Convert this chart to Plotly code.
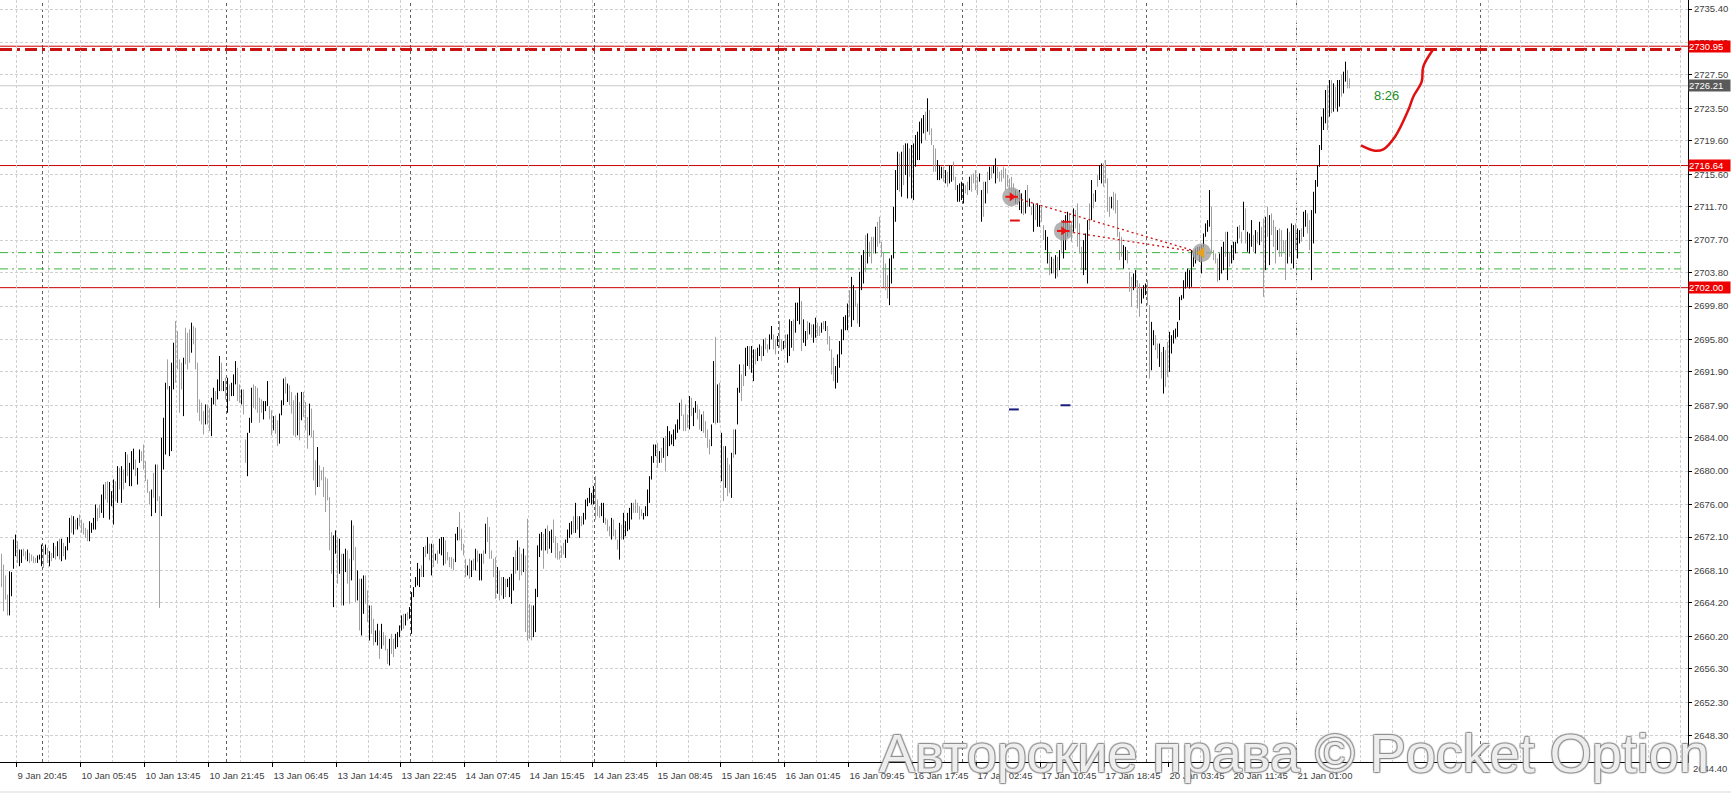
import plotly.graph_objects as go

# ---------------- data (XAUUSD M15) ----------------
bar_high = [
2670.1,2668.8,2667.5,2665.2,2668.0, 2667.9,2671.8,2672.4,2671.6,2670.6,
2670.6,2670.7,2670.4,2670.6,2670.2, 2670.0,2669.8,2669.6,2669.9,2670.0,
2671.2,2671.0,2671.2,2670.8,2670.4, 2670.2,2671.4,2671.0,2671.6,2671.9,
2671.9,2671.4,2671.0,2672.1,2674.4, 2674.7,2674.6,2674.2,2674.4,2674.8,
2674.2,2673.8,2673.2,2673.0,2674.0, 2673.8,2674.4,2676.0,2675.6,2676.0,
2677.2,2678.4,2678.7,2678.8,2678.7, 2677.6,2679.0,2678.8,2680.6,2680.4,
2680.6,2680.2,2682.3,2682.0,2681.0, 2682.4,2682.7,2681.4,2680.4,2682.6,
2682.4,2683.2,2681.2,2679.0,2677.6, 2677.8,2679.8,2680.8,2680.8,2677.0,
2684.0,2686.4,2690.6,2693.4,2690.2, 2693.0,2695.4,2698.0,2696.8,2693.4,
2693.0,2693.6,2697.2,2696.6,2697.0, 2697.8,2697.4,2697.2,2693.0,2688.6,
2688.2,2687.2,2688.0,2688.0,2687.6, 2688.8,2690.0,2689.6,2691.0,2693.8,
2693.0,2690.8,2691.2,2691.2,2690.4, 2690.6,2691.6,2693.2,2692.4,2690.4,
2689.8,2689.8,2683.8,2684.6,2686.4, 2690.0,2690.4,2690.2,2690.0,2688.8,
2688.6,2688.4,2688.4,2690.8,2687.8, 2687.3,2686.6,2686.7,2686.1,2686.9,
2688.5,2691.1,2691.3,2690.5,2690.3, 2689.5,2688.5,2689.1,2689.4,2688.3,
2689.5,2689.5,2688.3,2686.5,2688.1, 2687.5,2684.9,2681.3,2682.9,2680.7,
2680.1,2680.5,2679.3,2679.1,2676.9, 2672.7,2672.3,2672.9,2672.1,2671.9,
2670.1,2670.1,2670.7,2670.5,2669.5, 2674.1,2673.5,2670.9,2668.1,2667.1,
2667.1,2667.5,2667.5,2665.7,2663.9, 2663.9,2662.3,2660.9,2661.7,2660.9,
2661.7,2660.7,2660.3,2658.7,2659.9, 2660.5,2659.9,2660.5,2660.7,2661.5,
2662.7,2662.9,2662.9,2663.1,2663.7, 2665.5,2666.1,2667.3,2669.0,2668.3,
2668.7,2670.9,2671.1,2672.1,2671.3, 2671.3,2671.3,2670.1,2670.5,2671.9,
2672.1,2672.1,2671.7,2670.3,2669.7, 2669.7,2669.5,2672.5,2673.3,2675.1,
2673.1,2671.3,2669.5,2668.7,2669.5, 2669.3,2669.5,2670.7,2670.5,2670.1,
2670.1,2670.5,2673.7,2674.5,2673.3, 2670.5,2669.5,2669.7,2668.5,2668.1,
2667.3,2667.3,2667.1,2667.1,2667.3, 2667.7,2669.7,2670.5,2671.7,2670.9,
2670.1,2670.7,2669.9,2674.3,2664.1, 2663.9,2663.9,2665.9,2671.1,2672.5,
2672.7,2672.5,2673.1,2673.5,2672.8, 2673.0,2674.2,2672.2,2671.4,2670.4,
2671.0,2671.4,2671.8,2673.0,2673.8, 2674.0,2674.6,2676.2,2674.6,2674.6,
2674.6,2675.0,2676.6,2676.8,2678.0, 2677.4,2678.2,2679.4,2676.6,2675.8,
2676.2,2676.2,2674.4,2674.2,2673.4, 2674.4,2674.2,2673.0,2671.8,2673.8,
2673.6,2675.0,2674.0,2675.0,2675.6, 2676.2,2676.2,2676.6,2676.2,2675.8,
2675.4,2675.0,2675.8,2677.8,2679.4, 2681.8,2683.2,2683.2,2683.4,2682.4,
2682.8,2684.0,2684.2,2685.4,2684.8, 2684.4,2685.0,2685.6,2686.2,2688.2,
2688.6,2686.8,2688.0,2686.8,2689.0, 2688.8,2687.6,2688.4,2688.0,2687.4,
2686.8,2687.2,2686.0,2685.0,2683.8, 2685.6,2693.2,2696.1,2690.4,2690.6,
2684.6,2683.0,2683.0,2681.6,2680.8, 2682.2,2685.0,2685.0,2690.0,2692.8,
2691.6,2692.8,2694.8,2695.0,2695.0, 2695.0,2694.6,2694.6,2694.8,2695.2,
2695.0,2695.8,2696.0,2695.2,2696.4, 2697.4,2696.4,2695.8,2696.2,2698.0,
2695.8,2695.6,2696.4,2696.4,2698.2, 2698.0,2698.2,2700.2,2700.2,2702.0,
2700.4,2698.2,2696.8,2698.0,2697.8, 2697.6,2697.6,2698.4,2697.8,2697.4,
2697.8,2698.0,2698.0,2697.4,2696.2, 2694.6,2693.6,2692.6,2694.0,2695.6,
2697.0,2698.5,2698.7,2700.1,2701.7, 2703.3,2702.3,2701.7,2700.1,2703.9,
2705.9,2706.5,2708.3,2708.5,2707.5, 2708.1,2708.1,2709.3,2709.9,2710.5,
2707.5,2706.3,2704.9,2703.5,2705.5, 2705.9,2711.7,2716.1,2718.3,2718.1,
2718.3,2719.1,2719.3,2719.3,2718.7, 2719.1,2719.3,2720.3,2720.7,2721.9,
2722.3,2722.7,2723.1,2724.7,2723.3, 2721.1,2719.1,2718.7,2717.3,2716.7,
2716.5,2716.5,2716.1,2715.9,2716.7, 2716.7,2717.1,2715.3,2714.3,2714.5,
2714.7,2714.5,2714.3,2714.7,2715.3, 2715.5,2715.7,2716.1,2715.3,2715.7,
2713.7,2714.7,2714.7,2715.9,2716.5, 2716.5,2716.7,2717.5,2716.5,2715.9,
2716.1,2716.5,2716.3,2715.5,2715.1, 2715.3,2714.5,2713.7,2713.5,2713.7,
2713.3,2712.3,2713.7,2714.3,2712.7, 2711.7,2712.1,2711.9,2712.1,2711.9,
2711.7,2709.5,2708.9,2708.1,2706.1, 2705.7,2705.5,2705.9,2705.7,2706.5,
2710.1,2710.1,2710.7,2711.1,2710.9, 2709.9,2711.5,2711.3,2712.1,2709.7,
2706.9,2707.7,2708.5,2710.1,2712.1, 2714.9,2713.3,2713.7,2715.5,2716.7,
2716.9,2716.9,2717.3,2715.1,2712.9, 2712.9,2713.5,2713.3,2712.5,2708.7,
2708.1,2707.1,2706.9,2706.5,2703.9, 2703.3,2703.7,2704.1,2702.9,2702.5,
2701.9,2702.3,2702.5,2702.9,2699.9, 2697.9,2696.9,2696.3,2695.3,2695.3,
2694.3,2694.9,2694.5,2695.5,2696.7, 2696.3,2696.9,2697.1,2697.9,2700.9,
2701.1,2702.9,2703.9,2704.3,2704.1, 2706.5,2706.1,2706.7,2706.9,2706.9,
2707.1,2708.5,2709.7,2710.1,2713.7, 2711.7,2706.5,2706.1,2705.5,2706.1,
2706.9,2707.5,2708.7,2708.7,2706.3, 2707.1,2707.5,2707.5,2709.3,2709.5,
2708.7,2712.3,2711.5,2708.7,2708.5, 2710.1,2708.3,2708.9,2708.7,2709.9,
2709.3,2710.3,2710.5,2711.7,2710.7, 2710.9,2710.1,2709.3,2708.9,2709.1,
2708.9,2707.7,2707.7,2709.1,2708.7, 2709.7,2709.5,2709.7,2709.1,2708.9,
2709.1,2711.1,2711.3,2710.9,2710.1, 2711.3,2713.5,2714.9,2716.7,2719.1,
2722.5,2723.5,2725.7,2726.3,2726.9, 2726.9,2726.5,2726.1,2726.9,2726.9,
2727.5,2727.9,2729.1,2728.1,2727.1,
]

bar_low = [
2666.1,2663.2,2664.6,2662.7,2662.7, 2665.0,2668.3,2669.8,2669.0,2668.6,
2669.0,2669.8,2669.4,2669.2,2669.0, 2669.2,2669.0,2669.0,2669.0,2669.4,
2668.6,2668.4,2670.0,2669.0,2668.6, 2669.2,2669.6,2669.4,2669.8,2669.4,
2669.2,2669.8,2669.4,2670.5,2671.4, 2672.6,2672.4,2673.0,2673.0,2673.4,
2672.6,2672.4,2672.0,2671.6,2671.6, 2672.6,2673.0,2673.0,2674.0,2674.4,
2675.0,2674.4,2676.6,2676.2,2674.2, 2675.8,2673.6,2676.4,2676.2,2677.8,
2676.2,2677.8,2678.6,2679.4,2678.2, 2678.2,2680.2,2679.4,2678.4,2681.0,
2681.2,2680.2,2678.8,2677.4,2676.0, 2674.6,2676.8,2675.0,2676.4,2663.6,
2674.6,2680.2,2682.0,2689.8,2681.8, 2682.4,2689.8,2690.6,2692.2,2687.0,
2689.8,2686.6,2692.8,2692.2,2693.0, 2694.2,2695.2,2692.2,2687.0,2686.0,
2685.6,2684.4,2685.6,2685.6,2684.8, 2684.2,2688.0,2687.8,2688.6,2689.6,
2689.6,2689.6,2688.6,2687.0,2688.4, 2689.0,2689.0,2690.4,2688.4,2688.2,
2688.0,2686.8,2681.0,2679.4,2684.6, 2685.8,2687.6,2687.4,2687.0,2685.8,
2687.0,2686.2,2687.2,2687.8,2686.2, 2684.3,2684.9,2684.5,2683.0,2683.3,
2686.7,2687.9,2689.3,2688.3,2687.9, 2686.9,2684.3,2684.1,2684.3,2683.7,
2686.1,2686.5,2684.9,2682.7,2684.3, 2684.1,2678.9,2677.1,2678.1,2678.1,
2678.9,2676.9,2675.1,2676.5,2670.5, 2667.7,2663.7,2670.1,2666.5,2667.7,
2663.9,2663.9,2667.9,2666.5,2664.1, 2666.9,2669.3,2664.3,2664.5,2660.9,
2660.3,2662.9,2664.1,2661.9,2659.7, 2660.5,2659.1,2659.5,2659.1,2657.5,
2658.7,2659.1,2658.5,2656.9,2656.7, 2658.1,2657.7,2658.7,2658.9,2660.1,
2660.9,2661.1,2661.5,2662.1,2662.3, 2660.5,2664.9,2666.1,2666.3,2666.1,
2667.3,2667.3,2669.7,2670.1,2669.3, 2667.5,2668.5,2669.3,2668.9,2670.1,
2669.9,2668.7,2668.9,2669.3,2668.5, 2668.3,2668.1,2669.1,2671.7,2671.7,
2670.5,2669.9,2667.3,2667.5,2667.1, 2667.3,2668.1,2668.1,2669.1,2666.9,
2666.9,2668.9,2670.1,2671.5,2669.5, 2669.5,2667.3,2664.7,2665.3,2664.5,
2665.1,2664.7,2664.9,2666.1,2664.9, 2664.1,2665.7,2667.7,2668.1,2666.9,
2667.5,2667.9,2660.7,2659.7,2659.9, 2659.7,2660.1,2660.7,2664.9,2669.7,
2670.5,2668.3,2670.5,2670.1,2670.7, 2670.2,2671.4,2669.6,2669.4,2669.4,
2669.6,2670.0,2669.6,2671.4,2672.0, 2672.4,2672.6,2672.6,2673.0,2672.0,
2673.4,2673.6,2674.2,2675.8,2676.2, 2676.0,2676.0,2674.2,2674.6,2674.4,
2674.6,2673.8,2673.6,2672.8,2672.2, 2671.8,2672.2,2671.8,2670.6,2669.4,
2671.8,2671.8,2672.2,2672.8,2673.0, 2674.2,2675.0,2675.0,2675.0,2674.2,
2674.6,2674.2,2674.6,2674.6,2676.2, 2679.0,2681.0,2681.8,2680.4,2681.0,
2681.0,2681.6,2680.0,2681.8,2683.0, 2683.2,2683.0,2683.8,2684.6,2685.0,
2686.6,2684.8,2684.8,2685.2,2685.0, 2686.6,2685.4,2687.0,2686.2,2685.0,
2684.8,2684.6,2684.0,2682.8,2682.0, 2683.0,2685.8,2685.6,2685.8,2685.8,
2678.8,2676.4,2678.0,2677.0,2677.4, 2676.8,2681.6,2682.0,2685.6,2689.4,
2688.4,2690.2,2691.4,2692.6,2692.2, 2691.8,2690.8,2692.8,2693.2,2693.8,
2693.2,2693.8,2694.6,2694.2,2694.6, 2695.8,2694.6,2694.0,2695.0,2694.8,
2694.4,2694.6,2694.8,2693.0,2693.8, 2694.8,2694.4,2696.6,2698.0,2697.6,
2694.4,2695.4,2695.0,2695.8,2696.4, 2696.0,2695.4,2696.0,2696.2,2696.2,
2696.6,2697.0,2696.8,2695.2,2694.4, 2691.6,2690.8,2689.9,2690.6,2692.4,
2694.0,2695.7,2696.9,2696.9,2698.5, 2697.3,2698.1,2699.7,2697.7,2697.3,
2701.7,2702.5,2703.9,2704.9,2705.7, 2704.9,2706.1,2706.1,2706.9,2707.3,
2705.7,2702.1,2701.7,2700.7,2699.9, 2702.5,2705.5,2709.9,2713.7,2713.5,
2712.9,2714.3,2715.5,2712.7,2715.3, 2712.7,2712.5,2716.5,2717.3,2717.3,
2719.3,2720.5,2719.7,2720.7,2720.3, 2719.1,2715.9,2715.9,2714.9,2714.9,
2715.1,2714.7,2714.5,2714.1,2714.5, 2714.7,2714.9,2713.7,2712.3,2712.3,
2712.5,2712.1,2713.3,2713.1,2713.7, 2713.5,2714.5,2713.7,2713.1,2714.7,
2709.9,2710.5,2712.1,2713.3,2714.9, 2715.1,2715.7,2714.5,2715.1,2714.7,
2714.7,2715.1,2713.7,2714.1,2713.7, 2712.9,2712.5,2712.1,2711.9,2711.3,
2710.9,2710.7,2710.9,2711.7,2711.7, 2710.7,2708.7,2710.1,2709.3,2709.3,
2709.9,2707.7,2706.5,2704.9,2703.5, 2703.7,2703.7,2703.1,2703.3,2704.1,
2706.1,2705.5,2706.5,2708.1,2708.9, 2707.5,2708.7,2709.1,2706.9,2706.1,
2704.1,2703.5,2704.1,2702.5,2708.9, 2710.1,2711.5,2712.3,2714.1,2714.9,
2714.5,2714.1,2714.5,2711.1,2710.5, 2711.5,2711.3,2710.9,2708.1,2705.3,
2705.7,2704.3,2705.3,2704.9,2701.5, 2699.7,2701.7,2702.1,2699.5,2698.5,
2700.1,2700.7,2701.1,2699.9,2691.1, 2692.1,2695.1,2694.5,2693.5,2692.5,
2691.1,2689.3,2690.1,2691.3,2691.9, 2694.1,2695.3,2695.9,2696.1,2698.1,
2700.5,2700.7,2701.9,2702.1,2701.9, 2702.1,2704.5,2704.9,2705.9,2705.1,
2703.7,2706.1,2708.1,2708.7,2709.3, 2706.1,2705.3,2704.9,2702.7,2702.9,
2703.7,2704.1,2705.7,2702.9,2704.5, 2704.9,2705.3,2706.1,2707.3,2707.9,
2707.3,2708.9,2707.3,2706.3,2706.1, 2706.9,2706.3,2706.1,2707.3,2707.1,
2707.5,2700.9,2704.1,2708.1,2704.7, 2708.3,2706.9,2704.9,2706.5,2705.7,
2705.7,2706.3,2702.9,2704.9,2705.7, 2704.9,2704.3,2706.5,2705.5,2707.3,
2707.5,2708.1,2709.3,2708.5,2706.5, 2702.9,2707.3,2710.9,2714.1,2716.5,
2718.5,2720.9,2721.7,2720.9,2722.5, 2722.9,2723.1,2723.5,2723.1,2723.7,
2724.9,2725.3,2726.7,2725.9,2725.9,
]

# 1 = bullish bar (black), 0 = bearish bar (grey)
bar_up = [
0,0,0,0,1, 1,1,1,0,1, 1,0,0,1,0, 0,0,0,1,1, 1,0,1,0,1, 0,1,0,1,0,
1,0,1,1,1, 0,1,0,1,0, 0,0,0,0,1, 1,1,1,0,0, 1,1,0,0,1, 1,1,0,1,0,
1,0,1,0,1, 1,1,0,1,1, 0,0,0,0,0, 1,0,1,0,0, 1,1,1,0,1, 1,1,0,0,0,
0,1,0,0,0, 1,0,0,0,0, 0,0,1,0,0, 1,1,0,1,1, 0,1,0,1,0, 1,1,1,0,0,
1,0,0,1,1, 1,0,0,0,0, 0,1,1,1,0, 0,1,0,0,1, 1,1,0,1,0, 0,0,0,1,0,
1,0,0,0,1, 0,0,0,1,0, 0,0,0,0,0, 0,1,1,0,1, 0,1,1,0,0, 1,0,0,1,0,
1,1,0,0,1, 0,0,1,1,0, 1,0,0,0,1, 0,0,1,1,1, 1,0,1,0,1, 1,1,1,1,1,
0,1,0,1,0, 1,0,1,0,1, 1,1,0,0,0, 0,0,1,1,0, 0,0,0,1,0, 1,0,1,0,1,
1,0,1,0,0, 0,0,0,1,0, 0,1,0,1,1, 1,1,0,1,0, 0,1,0,0,0, 0,1,1,1,1,
1,0,1,0,1, 1,0,0,0,0, 0,0,1,1,1, 1,0,1,0,1, 0,1,1,1,1, 1,1,0,0,0,
1,1,0,0,0, 1,0,0,0,1, 0,1,1,1,1, 1,0,0,0,0, 0,1,1,1,1, 1,1,1,0,1,
0,1,0,1,1, 1,1,1,1,1, 0,0,0,0,1, 0,1,1,0,0, 1,0,0,0,0, 1,1,0,1,0,
1,0,1,0,0, 1,0,1,1,1, 0,0,1,1,0, 1,1,0,1,1, 0,1,0,0,1, 1,0,0,1,0,
0,1,0,1,1, 1,0,1,1,1, 0,1,1,0,1, 0,1,1,0,0, 1,0,1,0,0, 0,0,1,1,1,
1,1,1,1,0, 1,1,0,0,1, 1,1,0,1,0, 0,0,1,0,0, 0,0,0,0,1, 1,1,1,1,0,
1,0,1,1,0, 1,1,1,1,1, 1,1,0,1,0, 0,0,0,1,1, 1,0,1,0,1, 1,0,0,1,1,
1,1,0,0,1, 0,0,0,0,1, 1,0,1,0,1, 0,1,1,0,0, 0,0,0,0,0, 0,0,1,0,1,
1,0,1,0,1, 0,1,0,1,1, 0,0,1,1,0, 1,0,1,0,1, 0,1,1,1,0, 0,1,0,0,0,
0,1,1,1,0, 1,0,1,0,1, 1,0,0,0,0, 1,0,0,0,0, 0,1,1,0,0, 0,1,1,0,0,
1,1,1,0,0, 1,1,0,0,1, 0,1,0,0,1, 1,1,1,1,1, 1,1,1,1,1, 1,1,1,1,1,
1,1,1,1,1, 0,0,0,0,1, 1,1,0,1,0, 1,1,1,1,0, 0,1,0,1,1, 1,0,1,0,1,
0,0,1,0,1, 0,0,0,1,0, 0,0,0,1,0, 1,1,0,1,1, 0,1,1,0,0, 1,1,1,1,1,
1,1,1,0,1, 0,1,0,1,1, 0,1,1,0,0,
]

x_labels = ["9 Jan 20:45", "10 Jan 05:45", "10 Jan 13:45", "10 Jan 21:45",
            "13 Jan 06:45", "13 Jan 14:45", "13 Jan 22:45", "14 Jan 07:45",
            "14 Jan 15:45", "14 Jan 23:45", "15 Jan 08:45", "15 Jan 16:45",
            "16 Jan 01:45", "16 Jan 09:45", "16 Jan 17:45", "17 Jan 02:45",
            "17 Jan 10:45", "17 Jan 18:45", "20 Jan 03:45", "20 Jan 11:45",
            "21 Jan 01:00"]
y_labels = ["2735.40", "2731.40", "2727.50", "2723.50", "2719.60", "2715.60",
            "2711.70", "2707.70", "2703.80", "2699.80", "2695.80", "2691.90",
            "2687.90", "2684.00", "2680.00", "2676.00", "2672.10", "2668.10",
            "2664.20", "2660.20", "2656.30", "2652.30", "2648.30"]
y_label_bottom = "2644.40"

# horizontal levels
level_resist = 2730.95
level_resist_dashdot = 2730.55
level_bid = 2726.21
level_mid = 2716.64
level_support = 2702.00
level_green = [2706.2, 2704.25]

# day separators (bar index)
day_separators = [20.5, 112.5, 204.5, 296.5, 388.5, 480.5, 572.5, 647.5, 739.5]

# trade markers: (bar index, price)
entry_x = [505.1, 530.9]
entry_y = [2712.9, 2708.8]
exit_x = [600.1]
exit_y = [2706.2]
dotted_end_x = 595.9
dotted_end_y = [2706.45, 2706.35]
red_dash_x = [506.7, 532.5]
red_dash_y = [2710.05, 2709.9]
blue_dash_x = [506.2, 532.0]
blue_dash_y = [2687.4, 2687.9]

# hand-drawn forecast curve
curve_x = [679.75, 686.75, 690.9, 696.75, 703.4, 705.9, 710.1, 710.9, 715.9]
curve_y = [2719.07, 2718.42, 2718.59, 2720.10, 2723.30, 2724.90, 2726.70, 2728.50, 2730.58]
timer_text = "8:26"
timer_x, timer_y = 692.25, 2725.0

watermark = "Авторские права © Pocket Option"

# ---------------- figure ----------------
FONT = "Liberation Sans, Arial, sans-serif"
W, H = 1731, 793
ML, MR, MT, MB = 0, 43, 0, 31
PLOT_H = H - MT - MB

fig = go.Figure()

def segments(flag):
    xs, ys = [], []
    for i, (h, l, u) in enumerate(zip(bar_high, bar_low, bar_up)):
        if u == flag:
            xs += [i, i, None]
            ys += [l, h, None]
    return xs, ys

shapes = []
for xs in day_separators:
    shapes.append(dict(type="line", xref="x", yref="paper", x0=xs, x1=xs, y0=0, y1=1,
                       line=dict(color="#606060", width=1, dash="3px,3px"), layer="below"))
shapes.append(dict(type="line", xref="paper", yref="y", x0=0, x1=1, y0=level_bid, y1=level_bid,
                   line=dict(color="#c8c8c8", width=1), layer="below"))
for g in level_green:
    shapes.append(dict(type="line", xref="paper", yref="y", x0=0, x1=0.996, y0=g, y1=g,
                       line=dict(color="#3cb43c", width=1, dash="8px,4px,2px,4px"), layer="below"))
for lv in (level_resist, level_mid, level_support):
    shapes.append(dict(type="line", xref="paper", yref="y", x0=0, x1=1, y0=lv, y1=lv,
                       line=dict(color="#cc0000", width=1), layer="below"))
shapes.append(dict(type="line", xref="paper", yref="y", x0=0, x1=0.996,
                   y0=level_resist_dashdot, y1=level_resist_dashdot,
                   line=dict(color="#cc1111", width=3, dash="12px,5px,3px,5px"), layer="below"))
shapes.append(dict(type="rect", xref="paper", yref="paper", x0=-0.01, x1=1.03,
                   y0=-(MB - 2) / PLOT_H, y1=-(MB + 2) / PLOT_H,
                   fillcolor="#ececec", line=dict(width=0), layer="below"))

dx, dy = segments(0)
fig.add_trace(go.Scatter(x=dx, y=dy, mode="lines", line=dict(color="#a0a0a0", width=1),
                         hoverinfo="skip", showlegend=False))
ux, uy = segments(1)
fig.add_trace(go.Scatter(x=ux, y=uy, mode="lines", line=dict(color="#000000", width=1),
                         hoverinfo="skip", showlegend=False))

for ex, ey, ty in zip(entry_x, entry_y, dotted_end_y):
    fig.add_trace(go.Scatter(x=[ex, dotted_end_x], y=[ey, ty], mode="lines",
                             line=dict(color="#cc1111", width=1.3, dash="2px,3px"),
                             hoverinfo="skip", showlegend=False))
fig.add_trace(go.Scatter(x=entry_x + exit_x, y=entry_y + exit_y, mode="markers",
                         marker=dict(size=19, color="rgba(160,160,160,0.8)"),
                         hoverinfo="skip", showlegend=False))
fig.add_trace(go.Scatter(x=entry_x, y=entry_y, mode="markers",
                         marker=dict(symbol="triangle-right", size=8, color="#ee1111"),
                         hoverinfo="skip", showlegend=False))
fig.add_trace(go.Scatter(x=entry_x, y=entry_y, mode="markers",
                         marker=dict(symbol="line-ew", size=9, line=dict(color="#ee1111", width=2)),
                         hoverinfo="skip", showlegend=False))
fig.add_trace(go.Scatter(x=exit_x, y=exit_y, mode="markers",
                         marker=dict(symbol="triangle-left", size=10, color="#e8a020"),
                         hoverinfo="skip", showlegend=False))
fig.add_trace(go.Scatter(x=red_dash_x, y=red_dash_y, mode="markers",
                         marker=dict(symbol="line-ew", size=7, line=dict(color="#dd1111", width=2)),
                         hoverinfo="skip", showlegend=False))
fig.add_trace(go.Scatter(x=blue_dash_x, y=blue_dash_y, mode="markers",
                         marker=dict(symbol="line-ew", size=7, line=dict(color="#1a1a80", width=2)),
                         hoverinfo="skip", showlegend=False))
fig.add_trace(go.Scatter(x=curve_x, y=curve_y, mode="lines",
                         line=dict(color="#e01010", width=2.5, shape="spline"),
                         hoverinfo="skip", showlegend=False))

annotations = [
    dict(x=timer_x, y=timer_y, xref="x", yref="y", text=timer_text, showarrow=False,
         font=dict(family=FONT, size=13, color="#1e8c1e")),
]
for val, txt, bg in ((level_resist, "2730.95", "#ee0000"), (level_bid, "2726.21", "#5a5a5a"),
                     (level_mid, "2716.64", "#ee0000"), (level_support, "2702.00", "#ee0000")):
    annotations.append(dict(xref="paper", x=1.0, xanchor="left", yref="y", y=val, text=txt,
                            showarrow=False, bgcolor=bg, width=41, height=11, align="left",
                            borderpad=0, font=dict(family=FONT, size=9.5, color="white")))
annotations.append(dict(xref="paper", x=1.0, xanchor="left", xshift=3, yref="paper",
                        y=-6.5 / PLOT_H, yanchor="middle", text=y_label_bottom, showarrow=False,
                        font=dict(family=FONT, size=9.5, color="#404040")))
annotations.append(dict(xref="paper", yref="paper", x=1711 / (W - MR), xanchor="right",
                        y=9 / PLOT_H, yanchor="middle", text=watermark, showarrow=False,
                        font=dict(family=FONT, size=54, color="rgba(255,255,255,0.85)",
                                  shadow="-1px -1px 1px #8a8a8a, 1px -1px 1px #8a8a8a, -1px 1px 1px #8a8a8a, 1px 1px 1px #8a8a8a")))

x_tickvals = [7.5 + 32 * k for k in range(len(x_labels))]
x_gridvals = [7.5 + 16 * k for k in range(53)]

fig.update_layout(
    width=W, height=H,
    margin=dict(l=ML, r=MR, t=MT, b=MB),
    paper_bgcolor="white", plot_bgcolor="white",
    shapes=shapes, annotations=annotations,
    showlegend=False, hovermode=False,
    xaxis=dict(range=[-0.75, 843.25], tickmode="array", tickvals=x_tickvals, ticktext=x_labels,
               showgrid=True, gridcolor="#d0d0d0", griddash="3px,2px", gridwidth=1,
               minor=dict(tickmode="array", tickvals=x_gridvals, showgrid=True,
                          gridcolor="#d0d0d0", griddash="3px,2px", ticklen=0),
               ticks="outside", ticklen=4, tickcolor="#000", ticklabelposition="outside right",
               ticklabelstandoff=5,
               showline=True, linecolor="#000", linewidth=1, zeroline=False,
               tickfont=dict(family=FONT, size=9.5, color="#404040")),
    yaxis=dict(range=[2645.13, 2736.49], side="right", tickmode="array",
               tickvals=[float(v) for v in y_labels], ticktext=y_labels,
               showgrid=True, gridcolor="#d0d0d0", griddash="3px,2px", gridwidth=1,
               ticks="outside", ticklen=3, tickcolor="#000",
               showline=True, linecolor="#000", linewidth=1, zeroline=False,
               tickfont=dict(family=FONT, size=9.5, color="#404040")),
)

fig.write_html("out.html", config={"displayModeBar": False},
               post_script="document.body.style.margin='0';document.body.style.overflow='hidden';")
